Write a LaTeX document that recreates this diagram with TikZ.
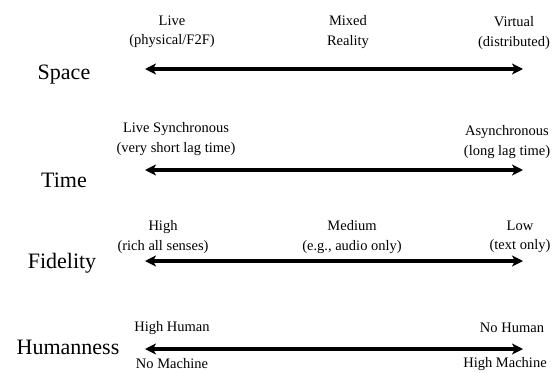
\documentclass[tikz,border=0pt]{standalone}
\usepackage{fontspec}
\setmainfont{Liberation Serif}
\usetikzlibrary{arrows.meta}
\begin{document}
\begin{tikzpicture}[x=1pt,y=-1pt,
  dimlabel/.style={font=\fontsize{22}{26}\selectfont, inner sep=0pt},
  polelabel/.style={font=\fontsize{14.5}{19.5}\selectfont, align=center, inner sep=0pt},
  biarrow/.style={line width=3.4pt, {Stealth[length=11pt,width=11pt,inset=3pt]}-{Stealth[length=11pt,width=11pt,inset=3pt]}}]
\useasboundingbox (0,0) rectangle (556,372);
% Space
\node[dimlabel] (space) at (64,75) {Space};
\node[polelabel] (sp1) at (172,32) {Live\\(physical/F2F)};
\node[polelabel] (sp2) at (348,32) {Mixed\\Reality};
\node[polelabel] (sp3) at (514,33) {Virtual\\(distributed)};
\coordinate (sL) at (145,69);
\coordinate (sR) at (523,69);
\draw[biarrow] (sL) -- (sR);
% Time
\node[dimlabel] (time) at (64,180) {Time};
\node[polelabel] (tm1) at (176,139) {Live Synchronous\\(very short lag time)};
\node[polelabel] (tm2) at (507,142) {Asynchronous\\(long lag time)};
\coordinate (tL) at (145,170);
\coordinate (tR) at (523,170);
\draw[biarrow] (tL) -- (tR);
% Fidelity
\node[dimlabel] (fid) at (62,263) {Fidelity};
\node[polelabel] (fd1) at (163,237) {High\\(rich all senses)};
\node[polelabel] (fd2) at (352,237) {Medium\\(e.g., audio only)};
\node[polelabel] (fd3) at (520,237) {Low\\(text only)};
\coordinate (fL) at (145,261);
\coordinate (fR) at (523,261);
\draw[biarrow] (fL) -- (fR);
% Humanness
\node[dimlabel] (hum) at (68,347) {Humanness};
\node[polelabel] (hm1) at (172,328) {High Human};
\node[polelabel] (hm2) at (172,364) {No Machine};
\node[polelabel] (hm3) at (512,328) {No Human};
\node[polelabel] (hm4) at (505,364) {High Machine};
\coordinate (hL) at (145,349);
\coordinate (hR) at (523,349);
\draw[biarrow] (hL) -- (hR);
\end{tikzpicture}
\end{document}
